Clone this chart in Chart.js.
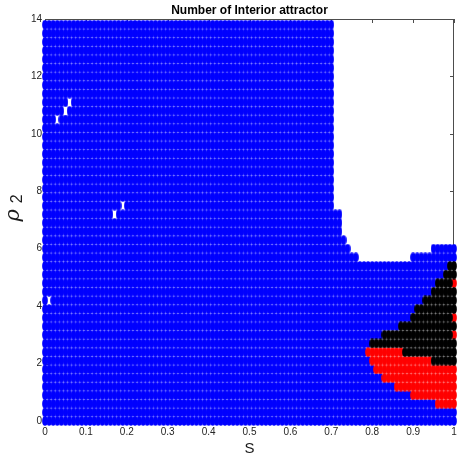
<!DOCTYPE html>
<html>
<head>
<meta charset="utf-8">
<script src="https://cdn.jsdelivr.net/npm/chart.js@4.4.1/dist/chart.umd.min.js"></script>
<style>
  html, body { margin: 0; padding: 0; background: #fff; overflow: hidden; }
  #wrap { width: 457px; height: 457px; }
</style>
</head>
<body>
<div id="wrap"><canvas id="attractorChart" width="457" height="457"></canvas></div>
<script>
// sweep grid: S in steps of 0.01, rho_2 in steps of 0.3 (0 .. 13.8)
const sStep = 0.01;
const sCount = 101;
const rhoStep = 0.3;

const sTicks = [0, 0.1, 0.2, 0.3, 0.4, 0.5, 0.6, 0.7, 0.8, 0.9, 1];
const rhoTicks = [0, 2, 4, 6, 8, 10, 12, 14];

// one entry per rho row, bottom to top: runs of [class, last S in run]
// class 0 = no attractor found (nothing drawn), 1 = blue, 2 = red, 3 = black
const rowRuns = [
  [[1, 1]],                                  // 0.0
  [[1, 1]],                                  // 0.3
  [[1, 0.95], [2, 1]],                       // 0.6
  [[1, 0.89], [2, 1]],                       // 0.9
  [[1, 0.85], [2, 1]],                       // 1.2
  [[1, 0.82], [2, 1]],                       // 1.5
  [[1, 0.80], [2, 1]],                       // 1.8
  [[1, 0.79], [2, 0.94], [3, 1]],            // 2.1
  [[1, 0.78], [2, 0.87], [3, 1]],            // 2.4
  [[1, 0.79], [3, 1]],                       // 2.7
  [[1, 0.82], [3, 0.99], [2, 1]],            // 3.0
  [[1, 0.86], [3, 1]],                       // 3.3
  [[1, 0.89], [3, 0.99], [2, 1]],            // 3.6
  [[1, 0.90], [3, 1]],                       // 3.9
  [[1, 0.92], [3, 1]],                       // 4.2
  [[1, 0.94], [3, 1]],                       // 4.5
  [[1, 0.95], [3, 0.99], [2, 1]],            // 4.8
  [[1, 0.97], [3, 1]],                       // 5.1
  [[1, 0.98], [3, 1]],                       // 5.4
  [[1, 0.76], [0, 0.89], [1, 1]],            // 5.7
  [[1, 0.74], [0, 0.94], [1, 1]],            // 6.0
  [[1, 0.73], [0, 1]],                       // 6.3
  [[1, 0.72], [0, 1]],                       // 6.6
  [[1, 0.72], [0, 1]],                       // 6.9
  [[1, 0.72], [0, 1]],                       // 7.2
  [[1, 0.70], [0, 1]],                       // 7.5
  [[1, 0.70], [0, 1]],                       // 7.8
  [[1, 0.70], [0, 1]],                       // 8.1
  [[1, 0.70], [0, 1]],                       // 8.4
  [[1, 0.70], [0, 1]],                       // 8.7
  [[1, 0.70], [0, 1]],                       // 9.0
  [[1, 0.70], [0, 1]],                       // 9.3
  [[1, 0.70], [0, 1]],                       // 9.6
  [[1, 0.70], [0, 1]],                       // 9.9
  [[1, 0.70], [0, 1]],                       // 10.2
  [[1, 0.70], [0, 1]],                       // 10.5
  [[1, 0.70], [0, 1]],                       // 10.8
  [[1, 0.70], [0, 1]],                       // 11.1
  [[1, 0.70], [0, 1]],                       // 11.4
  [[1, 0.70], [0, 1]],                       // 11.7
  [[1, 0.70], [0, 1]],                       // 12.0
  [[1, 0.70], [0, 1]],                       // 12.3
  [[1, 0.70], [0, 1]],                       // 12.6
  [[1, 0.70], [0, 1]],                       // 12.9
  [[1, 0.70], [0, 1]],                       // 13.2
  [[1, 0.70], [0, 1]],                       // 13.5
  [[1, 0.70], [0, 1]]                        // 13.8
];

// single runs that did not converge: [S, rho]
const missingPoints = [[0.01, 4.2], [0.17, 7.2], [0.19, 7.5], [0.03, 10.5], [0.05, 10.8], [0.06, 11.1]];

const classColors = { 1: '#0000ff', 2: '#ff0000', 3: '#000000' };
const classOrder = { 1: 3, 2: 2, 3: 1 };

const fontFamily = "'Liberation Sans Narrow', 'Liberation Sans', Arial, sans-serif";

function isMissing(s, r) {
  return missingPoints.some(p => Math.abs(p[0] - s) < 1e-6 && Math.abs(p[1] - r) < 1e-6);
}

// expand the runs into point lists per class
const pointsByClass = { 1: [], 2: [], 3: [] };
rowRuns.forEach((runs, k) => {
  const rho = +(k * rhoStep).toFixed(1);
  for (let i = 0; i < sCount; i++) {
    const s = +(i * sStep).toFixed(2);
    const run = runs.find(r => s <= r[1] + 1e-9);
    if (!run || run[0] === 0 || isMissing(s, rho)) continue;
    pointsByClass[run[0]].push({ x: s, y: rho });
  }
});

// markers come out slightly taller than wide
function ellipseMarker(color) {
  const c = document.createElement('canvas');
  c.width = 6;
  c.height = 10;
  const g = c.getContext('2d');
  g.fillStyle = color;
  g.beginPath();
  g.ellipse(3, 5, 2.85, 4.8, 0, 0, Math.PI * 2);
  g.fill();
  return c;
}

const datasets = [1, 2, 3].map(cls => ({
  label: String(cls),
  data: pointsByClass[cls],
  pointStyle: ellipseMarker(classColors[cls]),
  pointRadius: 3,
  pointHoverRadius: 3,
  backgroundColor: classColors[cls],
  borderWidth: 0,
  clip: false,
  order: classOrder[cls]
}));

// axes box with inward ticks, drawn underneath the markers
const frame = {
  id: 'frame',
  beforeDatasetsDraw(chart) {
    const { ctx, chartArea: a, scales } = chart;
    ctx.save();
    ctx.strokeStyle = '#4d4d4d';
    ctx.lineWidth = 1;
    ctx.strokeRect(a.left + 0.5, a.top + 0.5, a.right - a.left - 1, a.bottom - a.top - 1);
    ctx.beginPath();
    sTicks.forEach(v => {
      const x = Math.round(scales.x.getPixelForValue(v)) + 0.5;
      ctx.moveTo(x, a.bottom); ctx.lineTo(x, a.bottom - 4);
      ctx.moveTo(x, a.top); ctx.lineTo(x, a.top + 4);
    });
    rhoTicks.forEach(v => {
      const y = Math.round(scales.y.getPixelForValue(v)) + 0.5;
      ctx.moveTo(a.left, y); ctx.lineTo(a.left + 4, y);
      ctx.moveTo(a.right, y); ctx.lineTo(a.right - 4, y);
    });
    ctx.stroke();
    ctx.restore();
  },
  afterDraw(chart) {
    // y axis label: rho with subscript 2
    const { ctx } = chart;
    const rhoFont = "italic 21px 'DejaVu Serif', serif";
    const twoFont = "16px " + fontFamily;
    const gap = 6;
    ctx.save();
    ctx.translate(19, 208);
    ctx.rotate(-Math.PI / 2);
    ctx.fillStyle = '#1a1a1a';
    ctx.textBaseline = 'alphabetic';
    ctx.font = rhoFont;
    const wRho = ctx.measureText('\u03c1').width;
    ctx.font = twoFont;
    const wTwo = ctx.measureText('2').width;
    const start = -(wRho + wTwo + gap) / 2;
    ctx.font = rhoFont;
    ctx.fillText('\u03c1', start, 0);
    ctx.font = twoFont;
    ctx.fillText('2', start + wRho + gap, 3);
    ctx.restore();
  }
};

// drop the extra room Chart.js keeps for the end tick labels
function noLabelPadding(s) {
  s.paddingLeft = 0;
  s.paddingRight = 0;
  s.paddingTop = 0;
  s.paddingBottom = 0;
}

new Chart(document.getElementById('attractorChart'), {
  type: 'scatter',
  data: { datasets },
  options: {
    responsive: false,
    animation: false,
    events: [],
    layout: { padding: { left: 0, right: 3, top: 0, bottom: 0 }, autoPadding: false },
    plugins: {
      legend: { display: false },
      tooltip: { enabled: false },
      title: {
        display: true,
        text: 'Number of Interior attractor',
        fullSize: false,
        color: '#000',
        font: { family: fontFamily, size: 12, weight: 'bold', lineHeight: 1.1 },
        padding: { top: 4, bottom: 1.8 }
      }
    },
    scales: {
      x: {
        type: 'linear',
        min: 0,
        max: 1,
        afterFit: s => { s.height = 36; noLabelPadding(s); },
        afterBuildTicks: s => { s.ticks = sTicks.map(v => ({ value: v })); },
        grid: { display: false, drawTicks: false },
        border: { display: false },
        ticks: {
          autoSkip: false,
          maxRotation: 0,
          padding: 5,
          color: '#262626',
          font: { family: fontFamily, size: 10 },
          callback: v => String(v)
        },
        title: {
          display: true,
          text: 'S',
          color: '#1a1a1a',
          font: { family: fontFamily, size: 15, lineHeight: 1 },
          padding: { top: 0, bottom: 0.5 }
        }
      },
      y: {
        type: 'linear',
        min: 0,
        max: 14,
        afterFit: s => { s.width = 45; noLabelPadding(s); },
        afterBuildTicks: s => { s.ticks = rhoTicks.map(v => ({ value: v })); },
        grid: { display: false, drawTicks: false },
        border: { display: false },
        ticks: {
          autoSkip: false,
          padding: 3,
          color: '#262626',
          font: { family: fontFamily, size: 10 },
          callback: v => String(v)
        }
      }
    }
  },
  plugins: [frame]
});
</script>
</body>
</html>
